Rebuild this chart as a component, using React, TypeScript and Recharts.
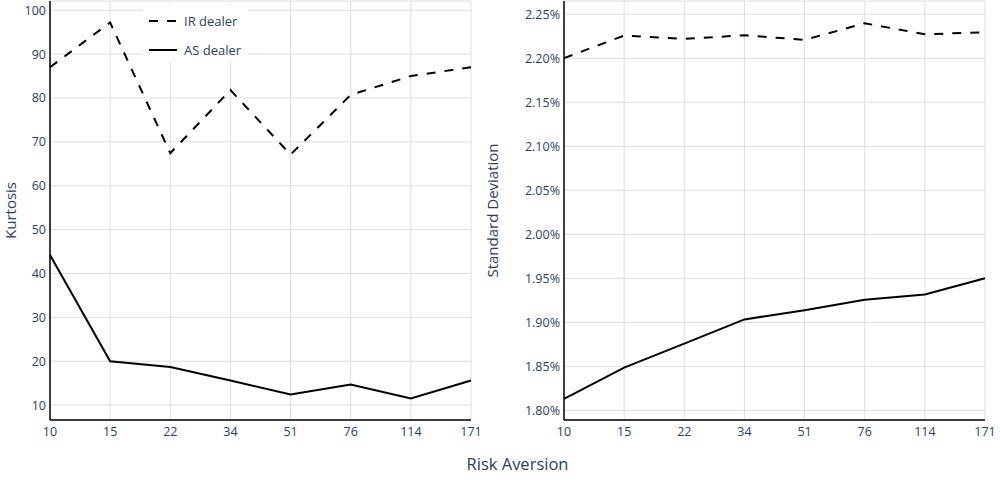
import React from 'react';
import { LineChart, Line, XAxis, YAxis, CartesianGrid, Legend } from 'recharts';

const riskAversion = ['10', '15', '22', '34', '51', '76', '114', '171'];
const seriesNames = ['IR dealer', 'AS dealer'];
const irKurtosis = [87.0, 97.2, 67.4, 81.8, 67.1, 80.7, 85.0, 87.0];
const asKurtosis = [44.2, 20.0, 18.7, 15.6, 12.4, 14.7, 11.5, 15.6];
const irStd = [2.2002, 2.2258, 2.222, 2.2262, 2.2209, 2.2398, 2.2273, 2.2296];
const asStd = [1.8132, 1.8487, 1.8758, 1.9034, 1.9139, 1.9257, 1.9317, 1.9502];
const kurtosisTicks = [10, 20, 30, 40, 50, 60, 70, 80, 90, 100];
const stdTicks = [1.8, 1.85, 1.9, 1.95, 2.0, 2.05, 2.1, 2.15, 2.2, 2.25];

const kurtosisData = riskAversion.map((ra, i) => ({ ra, ir: irKurtosis[i], as: asKurtosis[i] }));
const stdData = riskAversion.map((ra, i) => ({ ra, ir: irStd[i], as: asStd[i] }));

const FONT = '"Open Sans", verdana, arial, sans-serif';
const TEXT = '#2a3f5f';
const GRID = '#dedede';
const tick = { fill: TEXT, fontSize: 12.5, fontFamily: FONT };

const LegendBox = (props: any) => {
  const items = [...(props.payload || [])].sort(
    (a: any, b: any) => seriesNames.indexOf(a.value) - seriesNames.indexOf(b.value)
  );
  return (
    <div style={{ background: '#fff', width: 105, height: 58, paddingTop: 2, boxSizing: 'border-box' }}>
      {items.map((it: any) => (
        <div key={it.value} style={{ height: 29, display: 'flex', alignItems: 'center' }}>
          <svg width={40} height={10} style={{ flexShrink: 0 }}>
            <line x1={6} y1={5} x2={34} y2={5} stroke="#000" strokeWidth={2}
              strokeDasharray={it.payload?.strokeDasharray} />
          </svg>
          <span style={{ color: TEXT, fontSize: 13, fontFamily: FONT, marginLeft: 1 }}>{it.value}</span>
        </div>
      ))}
    </div>
  );
};

const yTitle = (text: string, x: number) => ({
  content: (p: any) => {
    const vb = p.viewBox || {};
    const cy = (vb.y || 0) + (vb.height || 0) / 2;
    return (
      <text transform={`translate(${x},${cy}) rotate(-90)`} textAnchor="middle" dominantBaseline="central"
        fill={TEXT} fontSize={15} fontFamily={FONT}>{text}</text>
    );
  },
});

export default function App() {
  return (
    <div style={{ position: 'absolute', left: 0, top: 0, width: 1000, height: 500, background: '#fff', fontFamily: FONT }}>
      <div style={{ position: 'absolute', left: 480, top: 0 }}>
        <LineChart width={520} height={450} data={stdData} margin={{ top: 1, right: 15, left: 0, bottom: 0 }}>
          <CartesianGrid stroke={GRID} />
          <XAxis dataKey="ra" height={30} tick={tick} tickLine={false} tickSize={0} tickMargin={7}
            axisLine={{ stroke: '#000', strokeWidth: 1.5 }} interval={0} />
          <XAxis xAxisId="top" orientation="top" height={0} tick={false} tickLine={false}
            axisLine={{ stroke: '#000', strokeWidth: 1.5 }} />
          <YAxis width={84} domain={[1.7891, 2.2651]} ticks={stdTicks} tick={tick} tickLine={false}
            tickSize={0} tickMargin={4} axisLine={{ stroke: '#000', strokeWidth: 1.5 }} allowDataOverflow
            tickFormatter={(v: number) => v.toFixed(2) + '%'}
            label={yTitle('Standard Deviation', 12)} />
          <YAxis yAxisId="right" orientation="right" width={0} tick={false} tickLine={false}
            axisLine={{ stroke: '#000', strokeWidth: 1.5 }} />
          <Line dataKey="ir" name="IR dealer" stroke="#000" strokeWidth={2} strokeDasharray="9 9"
            dot={false} activeDot={false} isAnimationActive={false} />
          <Line dataKey="as" name="AS dealer" stroke="#000" strokeWidth={2}
            dot={false} activeDot={false} isAnimationActive={false} />
        </LineChart>
      </div>
      <div style={{ position: 'absolute', left: 0, top: 0 }}>
        <LineChart width={492} height={450} data={kurtosisData} margin={{ top: 1, right: 21, left: 0, bottom: 0 }}>
          <CartesianGrid stroke={GRID} />
          <XAxis dataKey="ra" height={30} tick={tick} tickLine={false} tickSize={0} tickMargin={7}
            axisLine={{ stroke: '#000', strokeWidth: 1.5 }} interval={0} />
          <XAxis xAxisId="top" orientation="top" height={0} tick={false} tickLine={false}
            axisLine={{ stroke: '#000', strokeWidth: 1.5 }} />
          <YAxis width={50} domain={[6.6, 102.1]} ticks={kurtosisTicks} tick={tick} tickLine={false}
            tickSize={0} tickMargin={4} axisLine={{ stroke: '#000', strokeWidth: 1.5 }} allowDataOverflow
            label={yTitle('Kurtosis', 10)} />
          <YAxis yAxisId="right" orientation="right" width={0} tick={false} tickLine={false}
            axisLine={{ stroke: '#000', strokeWidth: 1.5 }} />
          <Legend layout="vertical" align="center" verticalAlign="middle" content={<LegendBox />}
            wrapperStyle={{ left: 143, top: 4, width: 105 }} />
          <Line dataKey="ir" name="IR dealer" stroke="#000" strokeWidth={2} strokeDasharray="9 9"
            dot={false} activeDot={false} isAnimationActive={false} />
          <Line dataKey="as" name="AS dealer" stroke="#000" strokeWidth={2}
            dot={false} activeDot={false} isAnimationActive={false} />
        </LineChart>
      </div>
      <div style={{ position: 'absolute', left: 0, width: 1035, top: 452, textAlign: 'center', color: TEXT, fontSize: 16.5 }}>
        Risk Aversion
      </div>
    </div>
  );
}
